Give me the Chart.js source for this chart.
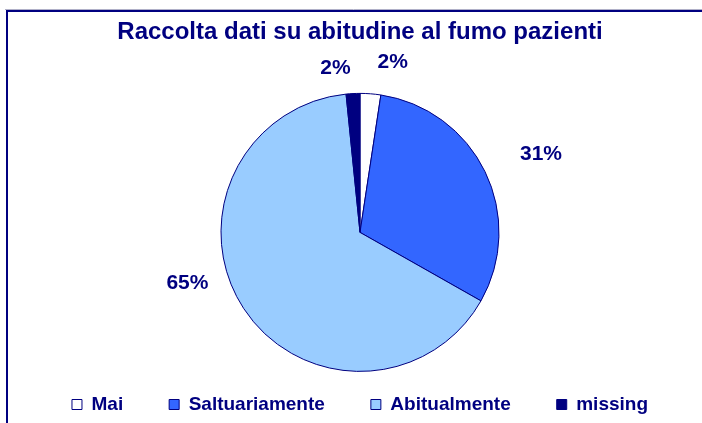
<!DOCTYPE html>
<html>
<head>
<meta charset="utf-8">
<script src="https://cdn.jsdelivr.net/npm/chart.js@4/dist/chart.umd.min.js"></script>
<style>
  html, body { margin: 0; padding: 0; background: #fff; }
  #wrap { width: 702px; height: 423px; position: relative; }
</style>
</head>
<body>
<div id="wrap"><canvas id="myChart"></canvas></div>
<script>
// dati
var categorie = ['Mai', 'Saltuariamente', 'Abitualmente', 'missing']
var percentuali = [2.4, 30.8, 65.2, 1.6]
var etichette = ['2%', '31%', '65%', '2%']
var colori = ['#ffffff', '#3366ff', '#99ccff', '#000080']

const navy = '#000080'
Chart.defaults.font.family = "'Liberation Sans', Arial, sans-serif"
Chart.defaults.font.weight = 'bold'
Chart.defaults.color = navy

// cornice tipo Excel
const cornice = {
  id: 'cornice',
  beforeDraw(chart) {
    const c = chart.ctx
    c.save()
    c.fillStyle = '#fff'
    c.fillRect(0, 0, chart.width, chart.height)
    c.strokeStyle = '#b0b0c8'
    c.lineWidth = 1
    c.beginPath(); c.moveTo(5, 9.5); c.lineTo(chart.width, 9.5); c.stroke()
    c.strokeStyle = navy
    c.lineWidth = 2
    c.beginPath()
    c.moveTo(7, chart.height)
    c.lineTo(7, 11)
    c.lineTo(chart.width, 11)
    c.stroke()
    c.restore()
  }
}

// percentuali fuori dalle fette
const etichettePlugin = {
  id: 'etichette',
  afterDatasetsDraw(chart, args, opts) {
    const c = chart.ctx
    const meta = chart.getDatasetMeta(0)
    c.save()
    c.font = 'bold ' + opts.size + 'px ' + Chart.defaults.font.family
    c.fillStyle = navy
    c.textAlign = 'center'
    c.textBaseline = 'middle'
    meta.data.forEach((arc, i) => {
      const p = arc.getProps(['x', 'y', 'startAngle', 'endAngle', 'outerRadius'], true)
      const a = (p.startAngle + p.endAngle) / 2
      const r = p.outerRadius + opts.distanza
      const sp = opts.spostamenti[i]
      c.fillText(etichette[i], p.x + Math.cos(a) * r + sp[0], p.y + Math.sin(a) * r + sp[1])
    })
    c.restore()
  }
}

const ctx = document.getElementById('myChart').getContext('2d')
const myChart = new Chart(ctx, {
  type: 'pie',
  data: {
    labels: categorie,
    datasets: [{
      data: percentuali,
      backgroundColor: colori,
      borderColor: navy,
      borderWidth: 1,
      radius: 139,
      clip: false
    }]
  },
  options: {
    responsive: true,
    maintainAspectRatio: false,
    animation: false,
    layout: { padding: { left: 18, right: 0, top: 0, bottom: -1 } },
    plugins: {
      title: {
        display: true,
        text: 'Raccolta dati su abitudine al fumo pazienti',
        color: navy,
        font: { size: 24, weight: 'bold' },
        padding: { top: 18, bottom: 69 }
      },
      legend: {
        position: 'bottom',
        labels: {
          boxWidth: 10,
          boxHeight: 10,
          padding: 46,
          color: navy,
          font: { size: 19, weight: 'bold' }
        }
      },
      tooltip: { enabled: false },
      etichette: {
        size: 21,
        distanza: 30,
        spostamenti: [[20, -2], [29, -4], [-31, -42], [-16, 5]]
      }
    }
  },
  plugins: [cornice, etichettePlugin]
})
</script>
</body>
</html>
